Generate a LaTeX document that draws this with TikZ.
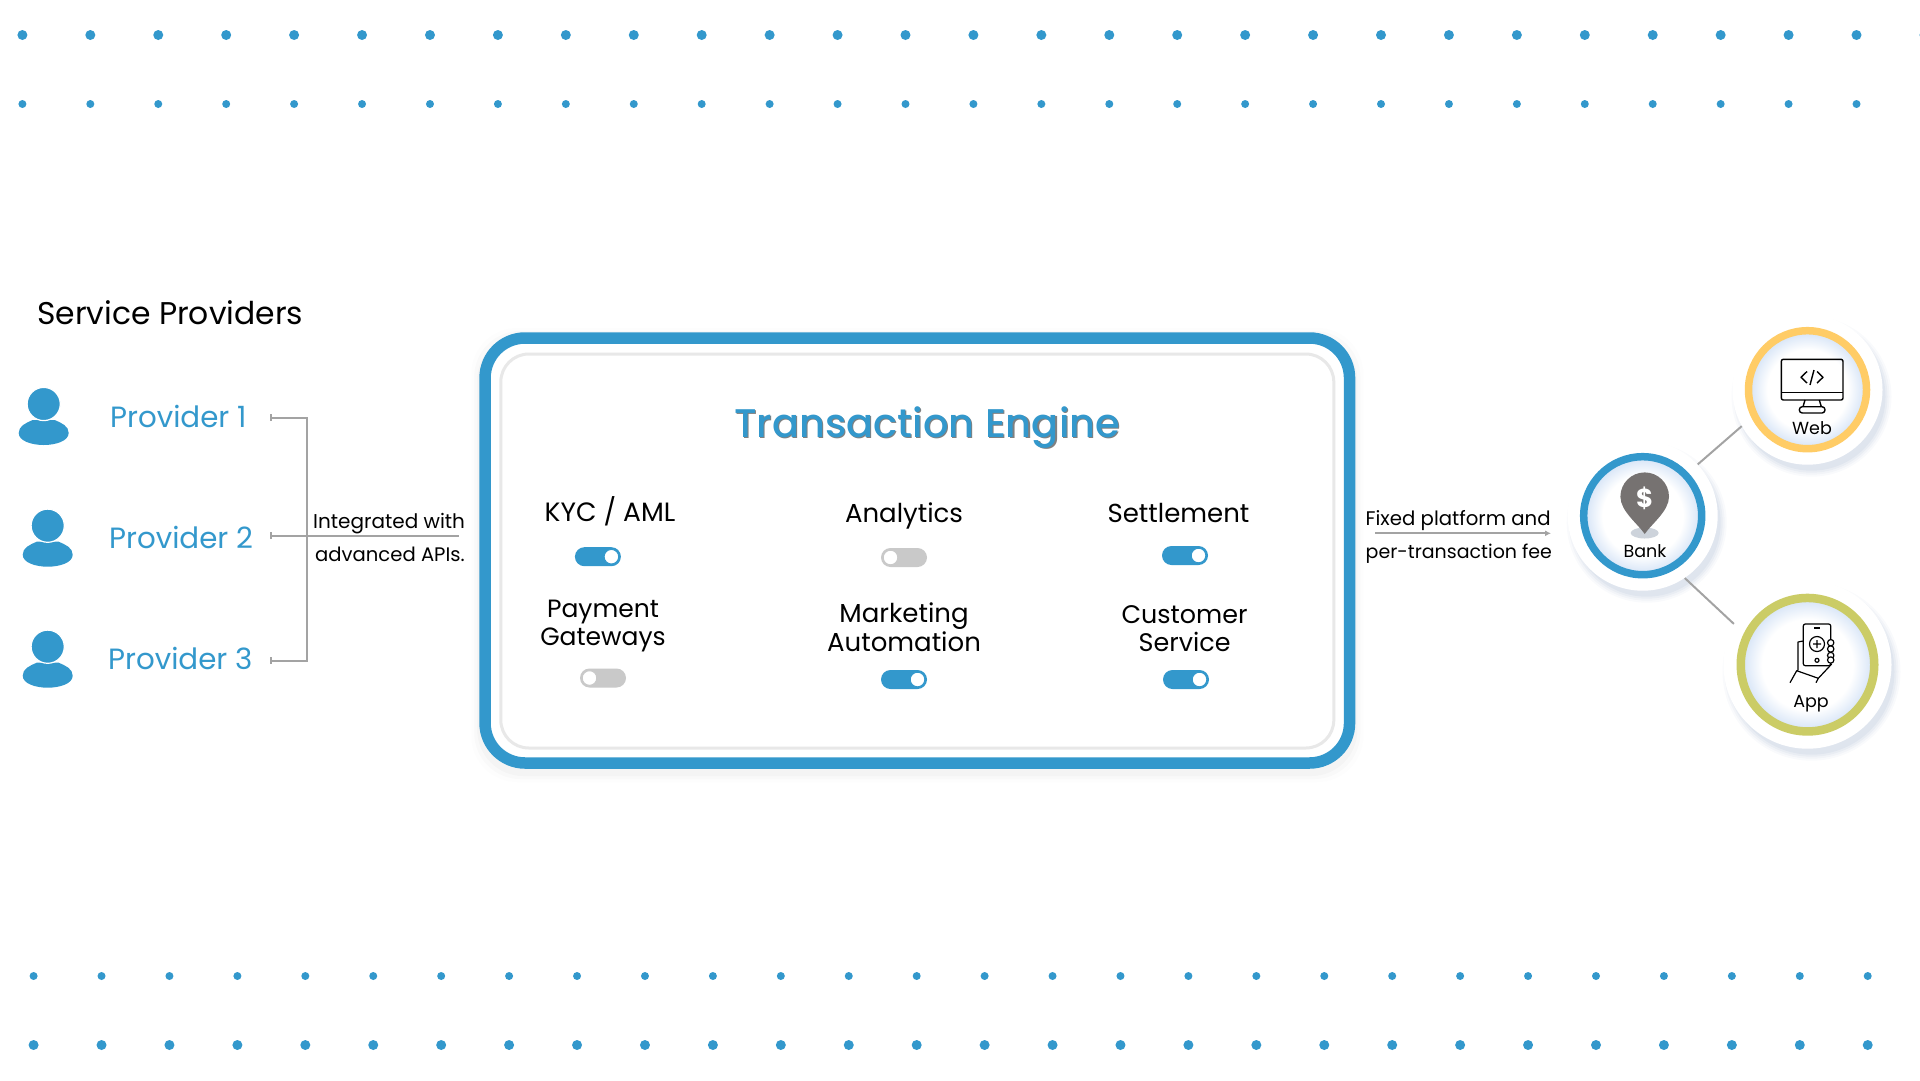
\documentclass[tikz,border=0pt]{standalone}
\usepackage{fontspec}
\setmainfont{Poppins}
\newfontfamily\titlefont{Poppins Medium}
\usetikzlibrary{arrows.meta}
\definecolor{brand}{HTML}{3398CC}
\definecolor{wire}{HTML}{A3A3A3}
\definecolor{offgray}{HTML}{C9C9C9}
\definecolor{halo}{HTML}{D3E2F6}
\definecolor{sunring}{HTML}{FFCC66}
\definecolor{limering}{HTML}{CBCC66}
\definecolor{pingray}{HTML}{767271}
\definecolor{shadowblue}{HTML}{8FA3C4}
\pgfdeclareradialshading{ringglow}{\pgfpoint{0bp}{0bp}}{color(0bp)=(white); color(17bp)=(white); color(25bp)=(halo); color(50bp)=(halo)}
\newcommand{\px}[1]{\fontsize{#1}{#1}\selectfont}
\tikzset{
	dot/.style={fill=brand},
	link/.style={draw=wire, line width=2pt},
	txt/.style={inner sep=0pt, anchor=base west, text=black},
	provider/.style={txt, text=brand, font=\px{29.3}},
	feature/.style={inner sep=0pt, align=center, text=black, font=\px{26}},
	small/.style={txt, font=\px{19.6}},
	disc/.style={circle, fill=white, inner sep=0pt},
	ring/.style={circle, shading=ringglow, inner sep=0pt},
	caption/.style={inner sep=0pt, anchor=base, text=black, font=\px{17.5}},
	icon/.style={draw=black, line width=1.4pt, line join=round},
	person/.pic={
		\fill[brand] (-25,29) .. controls (-25,22) and (-18,19) .. (-11,16) -- (11,16) .. controls (18,19) and (25,22) .. (25,29) .. controls (25,37) and (12,41) .. (0,41) .. controls (-12,41) and (-25,37) .. (-25,29) -- cycle;
		\fill[brand, draw=white, line width=1.2pt] (0,0) circle (16.6pt);
	},
	toggleon/.pic={
		\fill[brand, rounded corners=9.5pt] (-23,-9.5) rectangle (23,9.5);
		\fill[white, draw=brand, line width=1pt] (13.5,0) circle (7.3pt);
	},
	toggleoff/.pic={
		\fill[offgray, rounded corners=9.5pt] (-23,-9.5) rectangle (23,9.5);
		\fill[white, draw=offgray, line width=1pt] (-13.5,0) circle (7.3pt);
	},
}
\begin{document}
\begin{tikzpicture}[x=1pt, y=-1pt]
\useasboundingbox (0,0) rectangle (1920,1080);
% dots top and bottom
\foreach \i in {0,...,28} \fill[dot] ({22.4+67.93*\i},35) circle (5pt);
\foreach \i in {0,...,27} \fill[dot] ({22.4+67.93*\i},104) circle (4pt);
\foreach \i in {0,...,27} \fill[dot] ({33.6+67.93*\i},976) circle (4pt);
\foreach \i in {0,...,27} \fill[dot] ({33.6+67.93*\i},1045) circle (5pt);
% providers
\node[txt, font=\px{31.4}] (heading) at (37,324) {Service Providers};
\pic at (43.7,404) {person};
\pic at (47.7,525.7) {person};
\pic at (47.7,646.7) {person};
\node[provider] (prov1) at (110,427.5) {Provider 1};
\node[provider] (prov2) at (109,548.7) {Provider 2};
\node[provider] (prov3) at (108,669) {Provider 3};
% bracket
\coordinate (tie1) at (270,417.7);
\coordinate (tie2) at (270,535.7);
\coordinate (tie3) at (270,660.7);
\coordinate (spine) at (306.5,535.7);
\coordinate (apiend) at (458.7,535.7);
\draw[link, {Bar[width=7pt,length=1pt]}-] (tie1) -- (tie1 -| spine) -- (tie3 -| spine) -- (tie3);
\draw[link, -{Bar[width=7pt,length=1pt]}] (tie3 -| spine) -- (tie3);
\draw[link, {Bar[width=7pt,length=1pt]}-] (tie2) -- (apiend);
\node[small, font=\px{20}] (api1) at (313,528) {Integrated with};
\node[small] (api2) at (315,561.7) {advanced APIs.};
% engine frame
\foreach \grow/\fade in {8/.02, 5/.03, 2/.04}
	\fill[gray, opacity=\fade, rounded corners=46pt] ({479.3-\grow},{336-\grow}) rectangle ({1355.3+\grow},{774+\grow});
\node[draw=brand, fill=white, line width=11.5pt, rounded corners=40pt, minimum width=864.5pt, minimum height=425pt, inner sep=0pt] (engine) at (917.3,550.5) {};
\node[draw=black!9, fill=white, line width=3pt, rounded corners=28pt, minimum width=833pt, minimum height=394pt, inner sep=0pt] (panel) at (917.3,551) {};
\node[txt, text=gray, font=\titlefont\px{40}] (titleshade) at (735.2,438.2) {Transaction Engine};
\node[txt, text=brand, font=\titlefont\px{40}] (title) at (734,437) {Transaction Engine};
% features
\node[feature, anchor=base, font=\px{26.5}] (kyc) at (610,521.5) {KYC / AML};
\node[feature, anchor=base] (analytics) at (904,522.5) {Analytics};
\node[feature, anchor=base] (settle) at (1178.5,522.5) {Settlement};
\node[feature, font=\px{25}] (payment) at (603,626.5) {Payment\\[3pt]Gateways};
\node[feature] (marketing) at (904,627) {Marketing\\[1.5pt]Automation};
\node[feature, font=\px{25.4}] (customer) at (1184.6,628.5) {Customer\\[2.6pt]Service};
\pic at (597.9,556.7) {toggleon};
\pic at (904,557.5) {toggleoff};
\pic at (1185,555.5) {toggleon};
\pic at (603,678) {toggleoff};
\pic at (904,679.5) {toggleon};
\pic at (1186,679.5) {toggleon};
% fee arrow
\coordinate (feefrom) at (1375,533.3);
\coordinate (feeto) at (1551,533.3);
\draw[link, -{Latex[length=6pt,width=6pt]}] (feefrom) -- (feeto);
\node[small, font=\px{19.7}] (fee1) at (1365.5,525) {Fixed platform and};
\node[small, font=\px{19}] (fee2) at (1365.5,558) {per-transaction fee};
% hub shadows
\foreach \cx/\cy/\rad in {1642.7/515.7/75, 1807.5/389.7/75, 1807.5/664.7/84}
	\foreach \grow/\fade in {5/.05, 3/.07, 1/.09, -1/.11}
		\fill[shadowblue, opacity=\fade] ({\cx+4},{\cy+7}) circle ({(\rad+\grow)*1pt});
% hubs
\node[disc, minimum size=150pt] (bank) at (1642.7,515.7) {};
\node[disc, minimum size=150pt] (web) at (1807.5,389.7) {};
\node[disc, minimum size=168pt] (app) at (1807.5,664.7) {};
\draw[link] (bank.43) -- (web.209);
\draw[link] (bank.-56) -- (app.151);
\node[ring, draw=brand, line width=7.5pt, minimum size=118pt] (bankring) at (bank) {};
\node[ring, draw=sunring, line width=7.5pt, minimum size=118pt] (webring) at (web) {};
\node[ring, draw=limering, line width=8.5pt, minimum size=133.5pt] (appring) at (app) {};
% pin
\fill[offgray!60!halo] (1644.7,533) ellipse (14pt and 5.5pt);
\fill[pingray] (1644.7,534) .. controls (1638,524) and (1620.4,511) .. (1620.4,496.7) arc[start angle=180, end angle=0, radius=24.3pt] .. controls (1669,511) and (1651.4,524) .. (1644.7,534) -- cycle;
\node[inner sep=0pt, text=white, font=\bfseries\px{26}] (dollar) at (1644.7,498) {\$};
\node[caption] (banktxt) at (1645,557.7) {Bank};
% monitor
\draw[icon, rounded corners=2pt] (1781.3,359.3) rectangle (1843,400);
\draw[icon] (1781.3,392.3) -- (1843,392.3);
\draw[icon] (1805,400) -- (1803,406.7) (1819.3,400) -- (1821.3,406.7);
\draw[icon, rounded corners=3pt] (1799.3,406.7) rectangle (1825,413);
\draw[icon] (1807,371.5) -- (1801,377.3) -- (1807,383) (1817,371.5) -- (1823,377.3) -- (1817,383) (1814,370) -- (1810,385);
\node[caption] (webtxt) at (1812,434) {Web};
% phone in hand
\draw[icon, line width=1.2pt, rounded corners=2pt] (1803.3,624) rectangle (1830.7,665.7);
\draw[icon, line width=1.2pt] (1814,628) -- (1820,628);
\draw[icon, line width=1.2pt] (1817,644) circle (7.5pt) (1817,640) -- (1817,648) (1813,644) -- (1821,644) (1817,660.3) circle (2pt);
\foreach \fy in {642.7,649,655.5,660} \draw[icon, line width=1.2pt, fill=white] (1830.7,\fy) circle (3.2pt);
\draw[icon, line width=1.2pt] (1803.3,641) -- (1798,642) -- (1798,670) (1790,682.7) -- (1796.7,670.7) -- (1818.3,678.3) -- (1816,682.7) (1818.3,678.3) -- (1831.7,664);
\node[caption] (apptxt) at (1811,707) {App};
\end{tikzpicture}
\end{document}
